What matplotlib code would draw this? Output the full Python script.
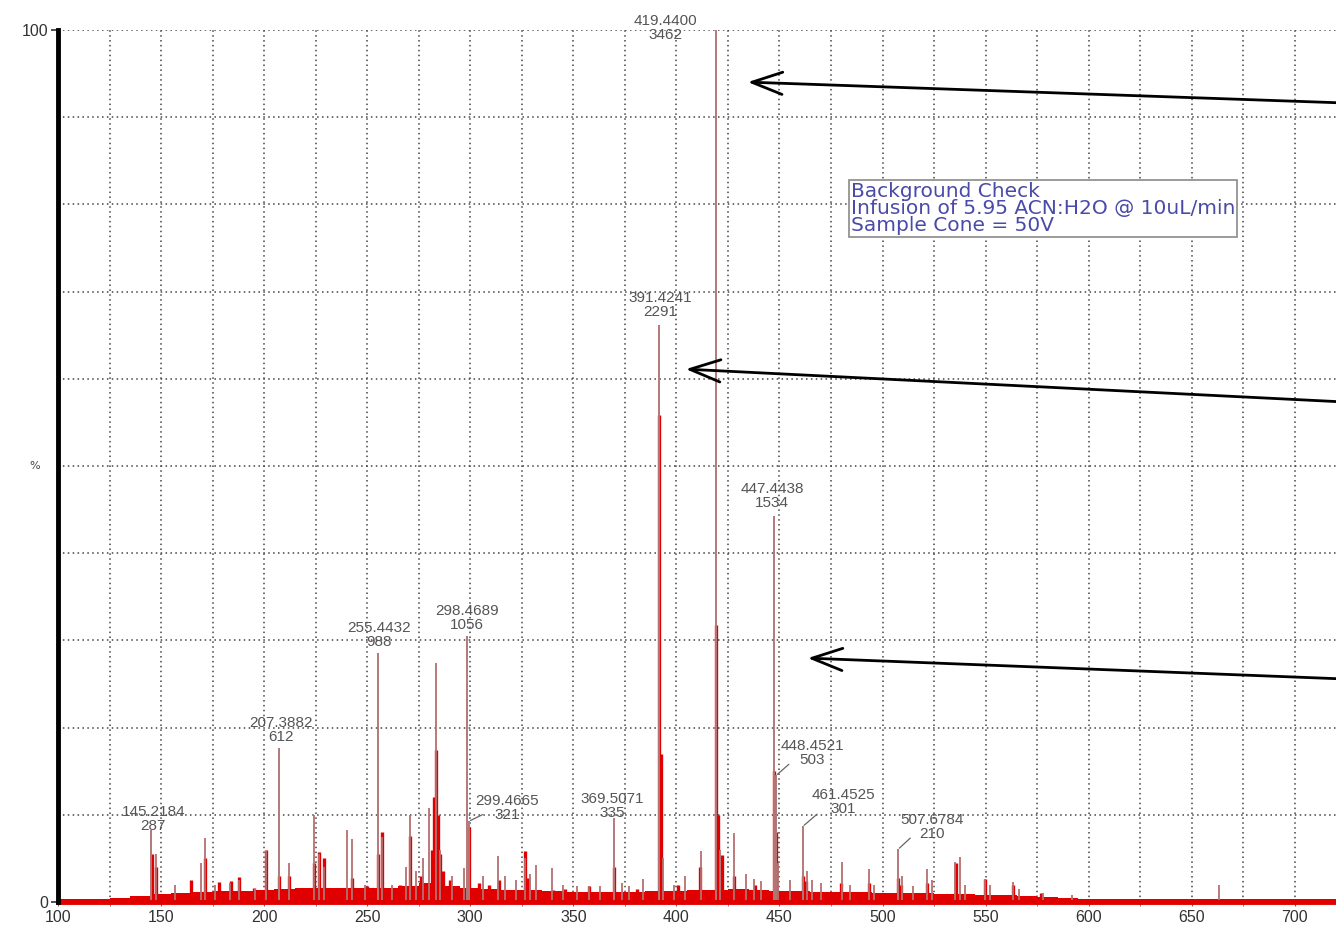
import matplotlib
matplotlib.use("Agg")
import matplotlib.pyplot as plt
import numpy as np
from matplotlib.patches import FancyArrowPatch

# ---------------- data ----------------
base_count = 3462
label_mz = [145.2184, 207.3882, 255.4432, 298.4689, 299.4665, 369.5071,
            391.4241, 419.4400, 447.4438, 448.4521, 461.4525, 507.6784]
label_counts = [287, 612, 988, 1056, 321, 335, 2291, 3462, 1534, 503, 301, 210]

# other centroid sticks (m/z, % of base peak)
stick_mz = [147.5, 157, 169.5, 171.4, 176, 183.5, 188, 195.5, 200.8, 212.3,
            224.0, 226.8, 229, 240.3, 242.5, 249, 257.3, 262, 269.0, 271.0,
            273.5, 277, 280.0, 283.3, 285.3, 291, 297.0, 306, 313.6, 317,
            322, 326.5, 329, 332.0, 339.5, 345, 352, 357.6, 363, 373.5,
            377, 383.7, 393.4, 399, 404, 411.8, 421.4, 428.0, 434.0, 437.5,
            441.0, 449.5, 455, 463.5, 466, 470, 480.3, 484, 493.4, 496,
            509.5, 515, 521.8, 524, 535.0, 537.5, 540, 549.6, 552, 563.5,
            566, 578, 592, 663.3]
stick_pct = [5.5, 2.0, 4.5, 7.3, 2.0, 2.2, 2.5, 1.5, 5.8, 4.5,
             10.0, 5.5, 4.0, 8.2, 7.2, 2.0, 7.5, 2.0, 4.0, 10.0,
             3.5, 5.0, 10.8, 27.4, 6.0, 3.0, 3.9, 3.0, 5.3, 3.0,
             2.5, 5.0, 3.2, 4.3, 3.9, 2.0, 1.8, 1.8, 1.8, 2.2,
             1.8, 2.6, 5.0, 2.0, 3.0, 5.8, 6.0, 7.9, 3.2, 2.6,
             2.4, 4.5, 2.5, 3.5, 2.5, 2.2, 4.6, 2.0, 3.8, 2.0,
             3.0, 1.8, 3.8, 2.5, 4.6, 5.2, 2.0, 2.6, 2.0, 2.3,
             1.5, 1.0, 0.8, 2.0]

# profile (red) spectrum peaks
profile_mz = [145.5, 147.5, 164.5, 171.2, 178, 184, 188, 195, 200.8, 207.4,
              212, 224, 226.8, 229, 242.5, 250, 255.4, 257.3, 266, 270.8,
              276, 281.5, 282.4, 283.3, 284.2, 285.3, 287, 290, 299.5, 304,
              309, 314, 326.4, 328, 340, 346, 357.6, 369.6, 381, 391.4,
              392.3, 401, 411.5, 419.4, 420.4, 422, 428, 438, 447.4, 448.5,
              461.5, 463, 480, 493.5, 507.7, 509, 521.8, 535.5, 549.6, 563.3,
              577]
profile_pct = [5.5, 4.0, 2.5, 5.0, 2.3, 2.4, 2.9, 1.6, 6.0, 3.0,
               3.0, 4.5, 5.7, 5.1, 2.7, 1.8, 5.5, 8.0, 2.0, 7.6,
               3.0, 6.0, 12.0, 17.4, 10.0, 5.5, 3.5, 2.5, 8.6, 2.2,
               2.0, 2.5, 5.8, 2.7, 1.4, 1.5, 1.8, 4.0, 1.5, 55.8,
               17.0, 2.0, 4.0, 31.8, 10.0, 5.4, 3.0, 2.0, 15.0, 8.0,
               3.0, 2.4, 2.2, 2.2, 2.8, 2.0, 2.2, 4.5, 2.6, 2.0,
               1.0]

# noise floor level per 10-unit bin
noise_mz = list(range(100, 730, 10))
noise_pct = [0.3, 0.3, 0.4, 0.5, 0.7, 0.9, 1.0, 1.2, 1.3, 1.3,
             1.4, 1.5, 1.6, 1.6, 1.6, 1.6, 1.6, 1.8, 2.2, 1.8,
             1.6, 1.5, 1.4, 1.4, 1.3, 1.2, 1.1, 1.1, 1.2, 1.3,
             1.3, 1.4, 1.4, 1.5, 1.4, 1.3, 1.3, 1.2, 1.1, 1.1,
             1.0, 1.0, 1.0, 0.9, 0.9, 0.8, 0.8, 0.7, 0.6, 0.5,
             0.4, 0.4, 0.4, 0.4, 0.4, 0.4, 0.4, 0.4, 0.4, 0.4,
             0.4, 0.4, 0.4]

xtick_vals = list(range(100, 701, 50))
info_text = "Background Check\nInfusion of 5.95 ACN:H2O @ 10uL/min\nSample Cone = 50V"

# ---------------- figure ----------------
W, H = 1336, 927
fig = plt.figure(figsize=(W / 100, H / 100), dpi=100)
ax = fig.add_axes([58 / W, 25 / H, 1 - 58 / W, 872 / H])
ax.set_xlim(100, 720)
ax.set_ylim(0, 100)

grid_kw = dict(color="#444444", linestyle=(0, (1, 2.2)), linewidth=1.1)
ax.set_xticks(xtick_vals)
ax.set_xticklabels([str(v) for v in xtick_vals])
ax.set_xticks(np.arange(125, 720, 50), minor=True)
ax.set_yticks([0, 100])
ax.set_yticklabels(["0", "100"])
ax.set_yticks(np.arange(10, 100, 10), minor=True)
ax.grid(True, which="both", **grid_kw)
ax.set_axisbelow(True)

for s in ["top", "right", "bottom"]:
    ax.spines[s].set_visible(False)
ax.spines["left"].set_linewidth(3.5)
ax.spines["left"].set_color("black")
ax.spines["left"].set_zorder(10)

ax.tick_params(axis="x", which="both", length=3, color="#666666",
               labelsize=11.5, labelcolor="#333333", pad=3)
ax.tick_params(axis="y", which="major", length=5, width=1.2, color="#333333",
               labelsize=11.5, labelcolor="#333333", pad=2)
ax.tick_params(axis="y", which="minor", length=0)
for lab in ax.get_xticklabels() + ax.get_yticklabels():
    lab.set_family("Liberation Sans")

# noise floor
ax.fill_between(noise_mz, noise_pct, step="mid", color="#e00000", linewidth=0, zorder=2)
# red profile peaks
ax.vlines(profile_mz, 0, profile_pct, color="#e00000", linewidth=2.4, zorder=3)
# centroid sticks
ax.vlines(stick_mz, 0, stick_pct, color="#b47070", linewidth=1.3, zorder=4)
label_pct = [c / base_count * 100 for c in label_counts]
ax.vlines(label_mz, 0, label_pct, color="#b47878", linewidth=1.4, zorder=4)
ax.axhline(0, color="#e00000", linewidth=3.5, zorder=5, clip_on=False)

# peak labels (offsets in pixels from peak top)
offsets = [(2, 11), (2, 18), (1, 18), (0, 18), (38, 13), (-1, 12),
           (2, 20), (-51, 2), (-2, 20), (36, 22), (40, 24), (34, 22)]
leaders = [False, False, False, False, True, False,
           False, False, False, True, True, True]
for mz, cnt, pct, (dx, dy), lead in zip(label_mz, label_counts, label_pct, offsets, leaders):
    ax.annotate(f"{mz:.4f}\n{cnt}", xy=(mz, pct), xytext=(dx, dy),
                textcoords="offset pixels", ha="center", va="center",
                fontsize=11, color="#555555", family="Liberation Sans",
                linespacing=1.0, zorder=6, annotation_clip=False)
    if lead:
        ax.annotate("", xy=(mz, pct), xytext=(dx * 0.35, dy * 0.5),
                    textcoords="offset pixels",
                    arrowprops=dict(arrowstyle="-", color="#666666", lw=0.9,
                                    shrinkA=0, shrinkB=1), zorder=6)

# y-axis % label
fig.text(35 / W, 1 - 466 / H, "%", fontsize=8, color="#444444",
         ha="center", va="center")

# info box
fig.text(851 / W, 1 - 182 / H, info_text, fontsize=14.5, color="#4a4aa8",
         family="DejaVu Sans", ha="left", va="top", linespacing=0.86,
         bbox=dict(boxstyle="square,pad=0.1", fc="white", ec="#8a8a8a", lw=1.2),
         zorder=8)

# black arrows from the right edge
arrows = [((1345, 103), (745, 82)), ((1345, 402), (683, 369)), ((1345, 679), (805, 658))]
for (x0, y0), (x1, y1) in arrows:
    arr = FancyArrowPatch((x0 / W, 1 - y0 / H), (x1 / W, 1 - y1 / H),
                          transform=fig.transFigure,
                          arrowstyle="->,head_length=1.1,head_width=0.4",
                          mutation_scale=20, color="black", lw=2.0, zorder=20)
    fig.add_artist(arr)

fig.savefig("out.png", dpi=100, facecolor="white")
